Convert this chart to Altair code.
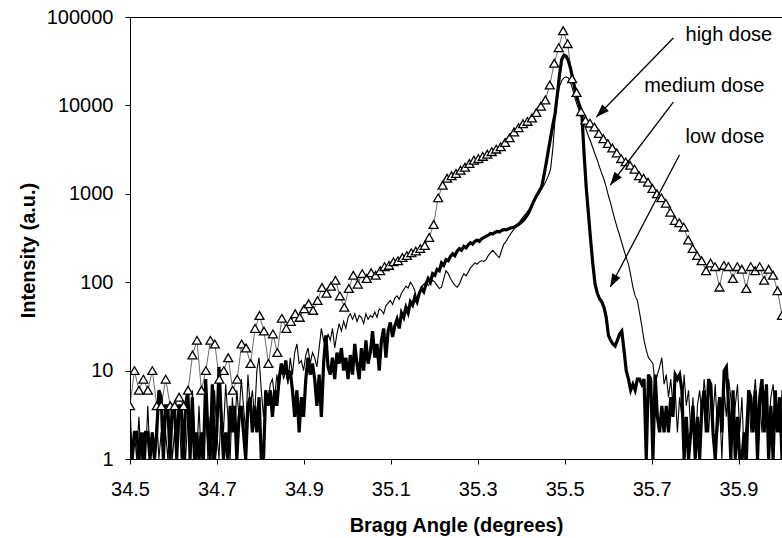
import math

import altair as alt
import numpy as np
import pandas as pd

# X-ray rocking scans, counts per step (thick = low dose, thin = medium dose)
low_dose = [
    2, 1, 2, 2, 1, 2, 1, 2, 2, 1, 2, 1, 2, 6, 5, 1, 4, 4, 1, 4,
    4, 1, 4, 4, 1, 4, 6, 1, 5, 1, 2, 1, 2, 1, 8, 2, 1, 7, 1, 2,
    11, 3, 1, 2, 1, 4, 2, 4, 1, 3, 4, 2, 1, 4, 5, 2, 4, 2, 5, 1,
    1, 6, 4, 6, 3, 6, 4, 8, 12, 9, 13, 8, 10, 6, 3, 6, 2, 5, 3, 8,
    14, 9, 12, 8, 4, 9, 3, 12, 25, 11, 9, 14, 8, 16, 12, 18, 10, 14, 8, 15,
    9, 20, 12, 8, 18, 10, 22, 12, 16, 28, 14, 20, 10, 22, 30, 14, 28, 35, 24, 32,
    38, 30, 45, 40, 52, 45, 60, 55, 68, 60, 75, 85, 78, 95, 110, 100, 125, 120, 140, 135,
    165, 155, 180, 175, 195, 210, 200, 225, 240, 230, 255, 245, 265, 280, 270, 290, 300, 290, 310, 320,
    330, 340, 355, 350, 365, 375, 370, 385, 395, 390, 400, 410, 415, 425, 440, 460, 480, 510, 550, 600,
    680, 780, 880, 980, 1080, 1200, 1600, 2200, 3100, 4300, 6000, 8000, 13000, 22000, 33000, 37000, 36000, 32000, 26000, 20000,
    15000, 12000, 10000, 8500, 3000, 1200, 600, 300, 160, 95, 75, 65, 60, 52, 40, 25, 22, 20, 19, 22,
    26, 28, 17, 10, 8, 6, 7, 6, 8, 8, 7, 8, 1, 9, 8, 1, 9, 3, 2, 4,
    2, 4, 2, 5, 3, 9, 8, 9, 6, 1, 3, 1, 2, 4, 1, 3, 1, 4, 6, 2,
    8, 7, 2, 1, 3, 5, 2, 10, 11, 4, 1, 6, 1, 3, 1, 1, 2, 1, 6, 5,
    2, 6, 1, 5, 8, 2, 7, 1, 4, 1, 6, 2, 5, 1,
]

medium_dose = [
    4, 1, 2, 1, 3, 1, 2, 1, 4, 1, 2, 1, 3, 1, 2, 1, 2, 1, 3, 1,
    2, 1, 4, 1, 2, 1, 3, 1, 6, 2, 1, 4, 1, 2, 5, 1, 3, 1, 6, 2,
    1, 4, 2, 7, 3, 1, 5, 2, 6, 3, 8, 4, 2, 9, 4, 6, 3, 10, 14, 6,
    3, 6, 4, 7, 8, 5, 9, 6, 12, 8, 10, 7, 14, 9, 16, 20, 12, 13, 10, 15,
    18, 12, 16, 14, 11, 18, 30, 22, 18, 26, 22, 30, 18, 26, 34, 28, 36, 30, 40, 44,
    38, 44, 36, 42, 40, 34, 44, 38, 42, 40, 46, 40, 50, 48, 44, 54, 58, 62, 56, 66,
    70, 64, 75, 82, 90, 86, 100, 92, 80, 62, 75, 88, 95, 100, 92, 98, 105, 100, 92, 85,
    88, 110, 135, 125, 110, 100, 92, 88, 95, 110, 125, 118, 130, 145, 155, 165, 160, 170, 175, 172,
    180, 200, 215, 230, 215, 200, 190, 230, 270, 290, 320, 350, 380, 410, 440, 480, 520, 560, 600, 650,
    700, 780, 870, 960, 1050, 1150, 1250, 1400, 1600, 1900, 3200, 7000, 12000, 16500, 19000, 20500, 21000, 20500, 18000, 15000,
    12000, 10000, 8500, 7200, 6300, 5300, 4500, 3900, 3300, 2800, 2400, 2000, 1700, 1450, 1200, 950, 780, 620, 500, 410,
    340, 280, 230, 190, 160, 120, 88, 70, 62, 45, 32, 22, 17, 14, 13, 12, 7, 9, 11, 14,
    7, 9, 5, 8, 4, 6, 2, 5, 3, 9, 4, 6, 2, 5, 1, 4, 6, 3, 8, 4,
    2, 5, 3, 7, 2, 4, 1, 6, 3, 8, 5, 2, 4, 7, 2, 5, 1, 3, 6, 2,
    4, 8, 3, 5, 2, 6, 4, 2, 5, 7, 3, 4, 2, 6,
]

# High dose scan, recorded at twice the step of the other two
high_dose = [
    4, 10, 6, 8, 6, 10, 4, 4, 8, 4,
    4, 5, 4, 6, 15, 22, 6, 10, 22, 20,
    8, 10, 14, 6, 8, 20, 18, 12, 30, 42,
    28, 12, 26, 16, 39, 30, 36, 44, 40, 50,
    57, 48, 62, 87, 75, 90, 105, 70, 52, 85,
    120, 95, 125, 110, 128, 120, 135, 150, 155, 170,
    175, 190, 200, 215, 225, 240, 260, 320, 450, 900,
    1250, 1500, 1600, 1700, 1850, 2000, 2200, 2400, 2500, 2650,
    2800, 3000, 3200, 3400, 3800, 4300, 5000, 5600, 6200, 6600,
    7200, 8300, 9800, 11500, 17000, 30000, 45000, 70000, 50000, 20000,
    14000, 8500, 6800, 6300, 5700, 4800, 4200, 3700, 3300, 2900,
    2500, 2300, 2100, 1900, 1600, 1500, 1350, 1150, 1000, 900,
    780, 620, 500, 470, 420, 300, 240, 200, 175, 135,
    165, 150, 88, 155, 150, 110, 150, 140, 85, 150,
    135, 150, 105, 140, 120, 80, 42,
]

# Series labels and their arrows (text anchor, arrow tail, arrow tip)
labels = ["high dose", "medium dose", "low dose"]
label_x = [35.778, 35.683, 35.778]
label_y = [62600, 16600, 4390]
tail_x = [35.750, 35.750, 35.764]
tail_y = [57800, 10920, 2748]
tip_x = [35.573, 35.605, 35.605]
tip_y = [7390, 1258, 88.3]

X_MIN, X_MAX = 34.5, 36.0
Y_MIN, Y_MAX = 1, 100000
PLOT_W, PLOT_H = 652, 442
FONT = "Liberation Sans"

fine = pd.DataFrame({
    "angle": np.linspace(X_MIN, X_MAX, len(low_dose)),
    "low": low_dose,
    "medium": medium_dose,
})
coarse = pd.DataFrame({
    "angle": np.linspace(X_MIN, X_MAX, len(high_dose)),
    "high": high_dose,
})


def to_screen(x, y):
    px = (x - X_MIN) / (X_MAX - X_MIN) * PLOT_W
    py = PLOT_H - (math.log10(y) - math.log10(Y_MIN)) / 5 * PLOT_H
    return px, py


def heading(x0, y0, x1, y1):
    ax, ay = to_screen(x0, y0)
    bx, by = to_screen(x1, y1)
    return math.degrees(math.atan2(bx - ax, -(by - ay))) % 360


notes = pd.DataFrame({
    "label": labels,
    "lx": label_x,
    "ly": label_y,
    "x0": tail_x,
    "y0": tail_y,
    "x1": tip_x,
    "y1": tip_y,
})
notes["heading"] = [
    heading(a, b, c, d) for a, b, c, d in zip(tail_x, tail_y, tip_x, tip_y)
]

x_scale = alt.Scale(domain=[X_MIN, X_MAX], nice=False, zero=False)
y_scale = alt.Scale(type="log", domain=[Y_MIN, Y_MAX], nice=False)

x_axis = alt.Axis(
    title="Bragg Angle (degrees)",
    values=[34.5, 34.7, 34.9, 35.1, 35.3, 35.5, 35.7, 35.9],
    format=".1f",
    grid=False,
    tickSize=5,
    labelPadding=15,
    labelFontSize=20,
    labelFont=FONT,
    labelColor="black",
    labelFlush=False,
    labelOverlap=False,
    titleFont=FONT,
    titleFontSize=20,
    titleFontWeight="bold",
    titleColor="black",
    titleY=66,
    titleBaseline="middle",
    domainColor="black",
    tickColor="black",
)
y_axis = alt.Axis(
    title="Intensity (a.u.)",
    values=[1, 10, 100, 1000, 10000, 100000],
    format="d",
    grid=False,
    tickSize=5,
    labelPadding=12,
    labelFontSize=20,
    labelFont=FONT,
    labelColor="black",
    labelFlush=False,
    labelOverlap=False,
    titleFont=FONT,
    titleFontSize=20,
    titleFontWeight="bold",
    titleColor="black",
    titleAngle=270,
    titleX=-102,
    titleY=233,
    titleAlign="center",
    titleBaseline="middle",
    domainColor="black",
    tickColor="black",
)

base_fine = alt.Chart(fine)
base_coarse = alt.Chart(coarse)

high_line = base_coarse.mark_line(color="#444444", strokeWidth=0.8, clip=True).encode(
    x=alt.X("angle:Q", scale=x_scale, axis=x_axis),
    y=alt.Y("high:Q", scale=y_scale, axis=y_axis),
)
medium_line = base_fine.mark_line(color="black", strokeWidth=1.1, clip=True).encode(
    x=alt.X("angle:Q", scale=x_scale, axis=x_axis),
    y=alt.Y("medium:Q", scale=y_scale, axis=y_axis),
)
low_line = base_fine.mark_line(color="black", strokeWidth=3.2, clip=True).encode(
    x=alt.X("angle:Q", scale=x_scale, axis=x_axis),
    y=alt.Y("low:Q", scale=y_scale, axis=y_axis),
)
high_marks = base_coarse.mark_point(
    shape="triangle-up", size=80, filled=True, fill="white", stroke="black",
    strokeWidth=1.3, opacity=1, clip=True,
).encode(
    x=alt.X("angle:Q", scale=x_scale, axis=x_axis),
    y=alt.Y("high:Q", scale=y_scale, axis=y_axis),
)

note_base = alt.Chart(notes)
arrow_shafts = note_base.mark_rule(color="black", strokeWidth=1.3).encode(
    x=alt.X("x0:Q", scale=x_scale, axis=x_axis),
    y=alt.Y("y0:Q", scale=y_scale, axis=y_axis),
    x2="x1:Q",
    y2="y1:Q",
)
arrow_heads = note_base.mark_point(
    shape="M0,0L-0.36,1L0.36,1Z", size=676, filled=True, color="black", opacity=1,
).encode(
    x=alt.X("x1:Q", scale=x_scale, axis=x_axis),
    y=alt.Y("y1:Q", scale=y_scale, axis=y_axis),
    angle=alt.Angle("heading:Q", scale=None),
)
note_text = note_base.mark_text(
    align="left", baseline="middle", fontSize=20, font=FONT, color="black",
).encode(
    x=alt.X("lx:Q", scale=x_scale, axis=x_axis),
    y=alt.Y("ly:Q", scale=y_scale, axis=y_axis),
    text="label:N",
)

chart = (
    alt.layer(high_line, medium_line, low_line, high_marks,
              arrow_shafts, arrow_heads, note_text)
    .properties(
        width=PLOT_W,
        height=PLOT_H,
        padding={"left": 130, "top": 17, "right": 0, "bottom": 79},
        autosize=alt.AutoSizeParams(type="none"),
        background="white",
    )
    .configure_view(stroke="black", strokeWidth=1)
)

chart.save("out.html", embed_options={"renderer": "svg", "actions": False})
